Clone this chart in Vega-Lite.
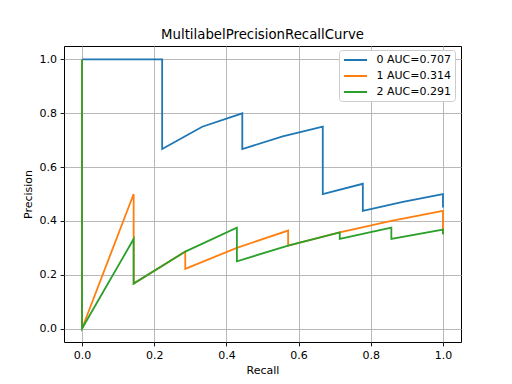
{
  "$schema": "https://vega.github.io/schema/vega-lite/v6.json",
  "width": 397,
  "height": 296,
  "autosize": {"type": "none"},
  "padding": {"left": 64, "top": 46, "right": 51, "bottom": 42},
  "background": "white",
  "config": {
    "font": "DejaVu Sans",
    "view": {"stroke": "black", "strokeWidth": 1},
    "axis": {
      "labelFont": "DejaVu Sans",
      "labelFontSize": 11,
      "labelColor": "black",
      "titleFont": "DejaVu Sans",
      "titleFontSize": 11,
      "titleFontWeight": "normal",
      "titleColor": "black",
      "tickColor": "black",
      "tickSize": 3.9,
      "tickWidth": 0.9,
      "labelPadding": 3.5,
      "domain": false,
      "gridColor": "#b0b0b0",
      "gridWidth": 0.9,
      "gridOpacity": 1
    },
    "title": {"font": "DejaVu Sans", "fontSize": 13.3, "fontWeight": "normal", "color": "black"}
  },
  "title": {"text": "MultilabelPrecisionRecallCurve", "offset": 5},
  "data": {
    "values": [
      {"series": "0 AUC=0.707", "i": 0, "recall": 1.0, "precision": 0.45},
      {"series": "0 AUC=0.707", "i": 1, "recall": 1.0, "precision": 0.5},
      {"series": "0 AUC=0.707", "i": 2, "recall": 0.889, "precision": 0.471},
      {"series": "0 AUC=0.707", "i": 3, "recall": 0.778, "precision": 0.4375},
      {"series": "0 AUC=0.707", "i": 4, "recall": 0.778, "precision": 0.538},
      {"series": "0 AUC=0.707", "i": 5, "recall": 0.667, "precision": 0.5},
      {"series": "0 AUC=0.707", "i": 6, "recall": 0.667, "precision": 0.75},
      {"series": "0 AUC=0.707", "i": 7, "recall": 0.556, "precision": 0.714},
      {"series": "0 AUC=0.707", "i": 8, "recall": 0.444, "precision": 0.667},
      {"series": "0 AUC=0.707", "i": 9, "recall": 0.444, "precision": 0.8},
      {"series": "0 AUC=0.707", "i": 10, "recall": 0.333, "precision": 0.75},
      {"series": "0 AUC=0.707", "i": 11, "recall": 0.222, "precision": 0.667},
      {"series": "0 AUC=0.707", "i": 12, "recall": 0.222, "precision": 1.0},
      {"series": "0 AUC=0.707", "i": 13, "recall": 0.111, "precision": 1.0},
      {"series": "0 AUC=0.707", "i": 14, "recall": 0.0, "precision": 1.0},
      {"series": "1 AUC=0.314", "i": 0, "recall": 1.0, "precision": 0.35},
      {"series": "1 AUC=0.314", "i": 1, "recall": 1.0, "precision": 0.4375},
      {"series": "1 AUC=0.314", "i": 2, "recall": 0.857, "precision": 0.4},
      {"series": "1 AUC=0.314", "i": 3, "recall": 0.714, "precision": 0.357},
      {"series": "1 AUC=0.314", "i": 4, "recall": 0.571, "precision": 0.308},
      {"series": "1 AUC=0.314", "i": 5, "recall": 0.571, "precision": 0.364},
      {"series": "1 AUC=0.314", "i": 6, "recall": 0.429, "precision": 0.3},
      {"series": "1 AUC=0.314", "i": 7, "recall": 0.286, "precision": 0.222},
      {"series": "1 AUC=0.314", "i": 8, "recall": 0.286, "precision": 0.286},
      {"series": "1 AUC=0.314", "i": 9, "recall": 0.143, "precision": 0.167},
      {"series": "1 AUC=0.314", "i": 10, "recall": 0.143, "precision": 0.5},
      {"series": "1 AUC=0.314", "i": 11, "recall": 0.0, "precision": 0.0},
      {"series": "1 AUC=0.314", "i": 12, "recall": 0.0, "precision": 1.0},
      {"series": "2 AUC=0.291", "i": 0, "recall": 1.0, "precision": 0.35},
      {"series": "2 AUC=0.291", "i": 1, "recall": 1.0, "precision": 0.368},
      {"series": "2 AUC=0.291", "i": 2, "recall": 0.857, "precision": 0.333},
      {"series": "2 AUC=0.291", "i": 3, "recall": 0.857, "precision": 0.375},
      {"series": "2 AUC=0.291", "i": 4, "recall": 0.714, "precision": 0.333},
      {"series": "2 AUC=0.291", "i": 5, "recall": 0.714, "precision": 0.357},
      {"series": "2 AUC=0.291", "i": 6, "recall": 0.571, "precision": 0.308},
      {"series": "2 AUC=0.291", "i": 7, "recall": 0.429, "precision": 0.25},
      {"series": "2 AUC=0.291", "i": 8, "recall": 0.429, "precision": 0.375},
      {"series": "2 AUC=0.291", "i": 9, "recall": 0.286, "precision": 0.286},
      {"series": "2 AUC=0.291", "i": 10, "recall": 0.143, "precision": 0.167},
      {"series": "2 AUC=0.291", "i": 11, "recall": 0.143, "precision": 0.333},
      {"series": "2 AUC=0.291", "i": 12, "recall": 0.0, "precision": 0.0},
      {"series": "2 AUC=0.291", "i": 13, "recall": 0.0, "precision": 1.0}
    ]
  },
  "mark": {"type": "line", "strokeWidth": 1.8, "clip": true},
  "encoding": {
    "x": {
      "field": "recall",
      "type": "quantitative",
      "scale": {"domain": [-0.05, 1.05], "nice": false, "zero": false},
      "axis": {"title": "Recall", "values": [0, 0.2, 0.4, 0.6, 0.8, 1.0], "format": ".1f", "titlePadding": 4}
    },
    "y": {
      "field": "precision",
      "type": "quantitative",
      "scale": {"domain": [-0.05, 1.05], "nice": false, "zero": false},
      "axis": {"title": "Precision", "values": [0, 0.2, 0.4, 0.6, 0.8, 1.0], "format": ".1f", "titlePadding": 6}
    },
    "order": {"field": "i", "type": "quantitative"},
    "color": {
      "field": "series",
      "type": "nominal",
      "scale": {
        "domain": ["0 AUC=0.707", "1 AUC=0.314", "2 AUC=0.291"],
        "range": ["#1f77b4", "#ff7f0e", "#2ca02c"]
      },
      "legend": {
        "title": null,
        "orient": "none",
        "legendX": 275,
        "legendY": 4,
        "fillColor": "white",
        "strokeColor": "#cccccc",
        "cornerRadius": 3,
        "padding": 4,
        "symbolType": "M-2.3,0H2.3",
        "symbolSize": 100,
        "symbolOffset": 6.5,
        "symbolStrokeWidth": 2,
        "labelFont": "DejaVu Sans",
        "labelFontSize": 11,
        "labelColor": "black",
        "labelOffset": 15,
        "rowPadding": 5
      }
    }
  }
}
